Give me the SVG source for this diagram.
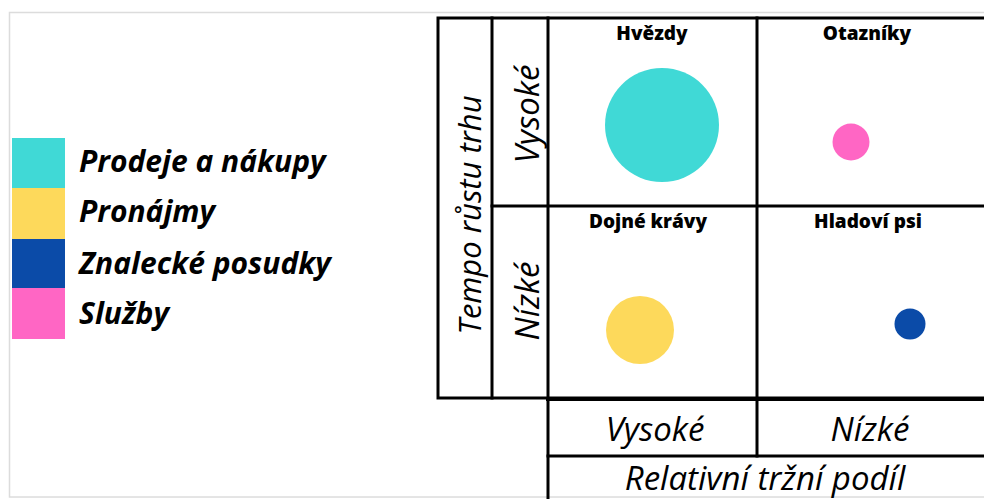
<svg xmlns="http://www.w3.org/2000/svg" width="984" height="499" viewBox="0 0 984 499">
<style>
.ln{stroke:#000;stroke-width:3;fill:none;stroke-linecap:square}
.leg{font-family:"Open Sans","Liberation Sans",sans-serif;font-weight:bold;font-style:italic;font-size:30px;fill:#000}
.ttl{font-family:"Open Sans","Liberation Sans",sans-serif;font-weight:800;font-size:19px;fill:#000;text-anchor:middle}
.ax{font-family:"Open Sans","Liberation Sans",sans-serif;font-style:italic;font-size:33px;fill:#000;text-anchor:middle}
</style>
<rect x="0" y="0" width="984" height="499" fill="#fff"/>
<rect x="9.5" y="12.5" width="1000" height="484.5" fill="none" stroke="#dcdcdc" stroke-width="1.5"/>
<g id="legend">
<rect x="12" y="138" width="53" height="51" fill="#40D9D6"/>
<rect x="12" y="188" width="53" height="51" fill="#FDD95B"/>
<rect x="12" y="239" width="53" height="50" fill="#0B4BA8"/>
<rect x="12" y="288" width="53" height="51" fill="#FF66C4"/>
<text class="leg" x="79" y="172">Prodeje a nákupy</text>
<text class="leg" x="79" y="222">Pronájmy</text>
<text class="leg" x="79" y="274">Znalecké posudky</text>
<text class="leg" x="79" y="324">Služby</text>
</g>
<g id="connectors">
<rect class="ln" x="438" y="18" width="600" height="380"/>
<line class="ln" x1="492" y1="18" x2="492" y2="398"/>
<line class="ln" x1="548" y1="18" x2="548" y2="499"/>
<line class="ln" x1="757" y1="18" x2="757" y2="456"/>
<line class="ln" x1="492" y1="206" x2="984" y2="206"/>
<line class="ln" x1="548" y1="399" x2="984" y2="399" style="stroke-width:4"/>
<line class="ln" x1="548" y1="456" x2="984" y2="456"/>
</g>
<g id="axis-y">
<text class="ax" transform="translate(481,215) rotate(-90)" style="font-size:31px">Tempo růstu trhu</text>
<text class="ax" transform="translate(539,114) rotate(-90)">Vysoké</text>
<text class="ax" transform="translate(539,301) rotate(-90)">Nízké</text>
</g>
<g id="hvezdy">
<text class="ttl" x="652" y="40">Hvězdy</text>
<circle cx="662" cy="125" r="57" fill="#40D9D6"/>
</g>
<g id="otazniky">
<text class="ttl" x="867" y="40">Otazníky</text>
<circle cx="851" cy="142" r="18.5" fill="#FF66C4"/>
</g>
<g id="dojne-kravy">
<text class="ttl" x="648" y="228">Dojné krávy</text>
<circle cx="640" cy="330" r="34" fill="#FDD95B"/>
</g>
<g id="hladovi-psi">
<text class="ttl" x="868" y="228">Hladoví psi</text>
<circle cx="910" cy="324" r="15.5" fill="#0B4BA8"/>
</g>
<g id="axis-x">
<text class="ax" x="655" y="441">Vysoké</text>
<text class="ax" x="870" y="441">Nízké</text>
<text class="ax" x="765" y="490">Relativní tržní podíl</text>
</g>
</svg>
